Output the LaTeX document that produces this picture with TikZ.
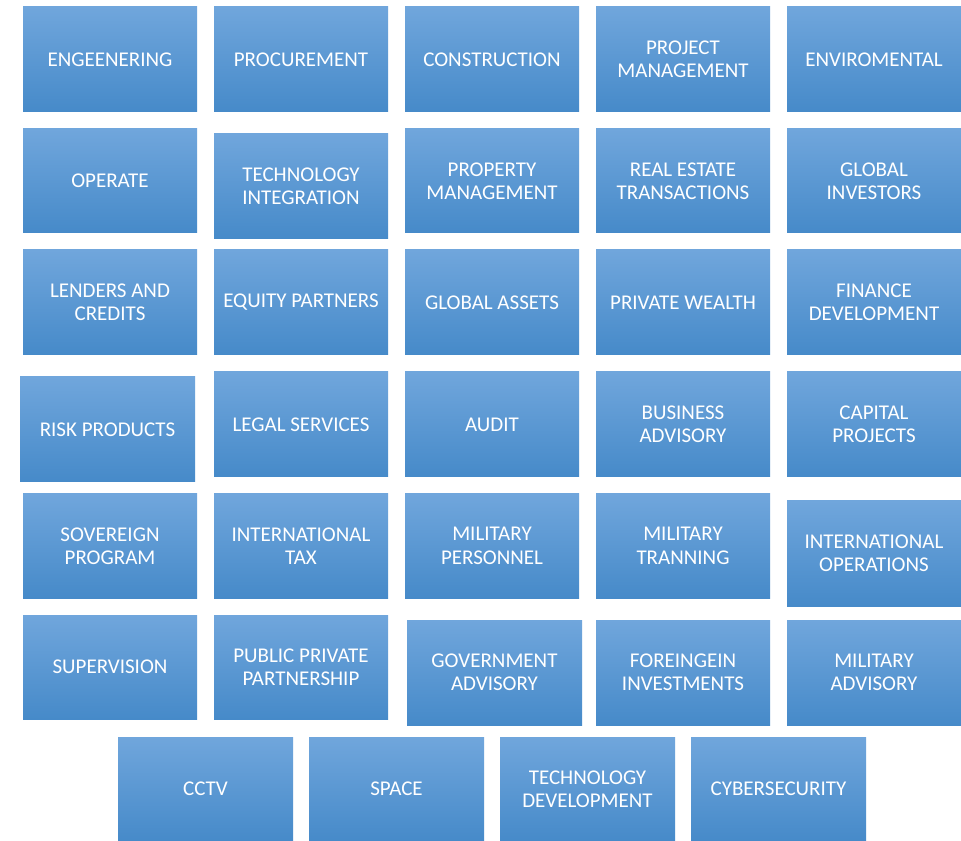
\documentclass[tikz,border=0pt]{standalone}
\usepackage{fontspec}
\setmainfont{Carlito}
\definecolor{btop}{RGB}{112,166,220}
\definecolor{bmid}{RGB}{90,156,218}
\definecolor{bbot}{RGB}{70,138,201}
\newcommand\bx[6]{%
  \node[tile, minimum width={(#4-#2)*0.75pt}, minimum height={(#5-#3)*0.75pt}]
    (#1) at ({(#2+#4)/2},{(#3+#5)/2}) {#6};}
\begin{document}
\begin{tikzpicture}[x=0.75pt,y=-0.75pt,
  tile/.style={rectangle, inner sep=0pt, outer sep=0pt, align=center,
    top color=btop, middle color=bmid, bottom color=bbot, shading=axis,
    text=white, font=\fontsize{15.75pt}{17.5pt}\selectfont}]
\useasboundingbox[fill=white] (0,0) rectangle (961,841);
% row 1
\bx{r1a}{23}{7}{197}{112}{ENGEENERING}
\bx{r1b}{214}{7}{388}{112}{PROCUREMENT}
\bx{r1c}{405}{7}{579}{112}{CONSTRUCTION}
\bx{r1d}{596}{7}{770}{112}{PROJECT\\MANAGEMENT}
\bx{r1e}{787}{7}{961}{112}{ENVIROMENTAL}
% row 2
\bx{r2a}{23}{129}{197}{233}{OPERATE}
\bx{r2b}{214}{134}{388}{239}{TECHNOLOGY\\INTEGRATION}
\bx{r2c}{405}{129}{579}{233}{PROPERTY\\MANAGEMENT}
\bx{r2d}{596}{129}{770}{233}{REAL ESTATE\\TRANSACTIONS}
\bx{r2e}{787}{129}{961}{233}{GLOBAL\\INVESTORS}
% row 3
\bx{r3a}{23}{250}{197}{355}{LENDERS AND\\CREDITS}
\bx{r3b}{214}{250}{388}{355}{EQUITY PARTNERS}
\bx{r3c}{405}{250}{579}{355}{GLOBAL ASSETS}
\bx{r3d}{596}{250}{770}{355}{PRIVATE WEALTH}
\bx{r3e}{787}{250}{961}{355}{FINANCE\\DEVELOPMENT}
% row 4
\bx{r4a}{20}{377}{195}{482}{RISK PRODUCTS}
\bx{r4b}{214}{372}{388}{477}{LEGAL SERVICES}
\bx{r4c}{405}{372}{579}{477}{AUDIT}
\bx{r4d}{596}{372}{770}{477}{BUSINESS\\ADVISORY}
\bx{r4e}{787}{372}{961}{477}{CAPITAL\\PROJECTS}
% row 5
\bx{r5a}{23}{494}{197}{598}{SOVEREIGN\\PROGRAM}
\bx{r5b}{214}{494}{388}{598}{INTERNATIONAL\\TAX}
\bx{r5c}{405}{494}{579}{598}{MILITARY\\PERSONNEL}
\bx{r5d}{596}{494}{770}{598}{MILITARY\\TRANNING}
\bx{r5e}{787}{501}{961}{606}{INTERNATIONAL\\OPERATIONS}
% row 6
\bx{r6a}{23}{615}{197}{719}{SUPERVISION}
\bx{r6b}{214}{615}{388}{719}{PUBLIC PRIVATE\\PARTNERSHIP}
\bx{r6c}{407}{620}{582}{725}{GOVERNMENT\\ADVISORY}
\bx{r6d}{596}{620}{770}{725}{FOREINGEIN\\INVESTMENTS}
\bx{r6e}{787}{620}{961}{725}{MILITARY\\ADVISORY}
% row 7
\bx{r7a}{118}{737}{293}{841}{CCTV}
\bx{r7b}{309}{737}{484}{841}{SPACE}
\bx{r7c}{500}{737}{675}{841}{TECHNOLOGY\\DEVELOPMENT}
\bx{r7d}{691}{737}{866}{841}{CYBERSECURITY}
\end{tikzpicture}
\end{document}
